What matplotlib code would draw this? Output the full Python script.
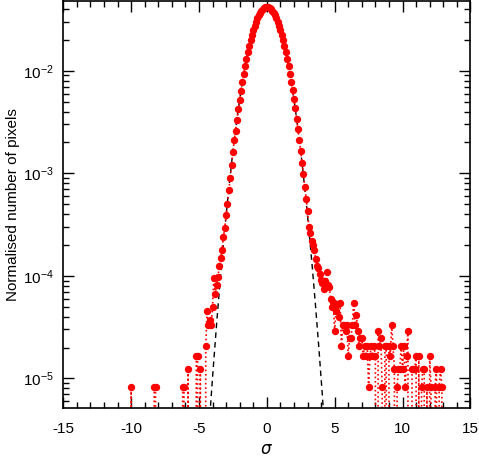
import numpy as np
import matplotlib
matplotlib.use("Agg")
import matplotlib.pyplot as plt
from matplotlib.ticker import MultipleLocator, LogLocator, NullFormatter

plt.rcParams['font.family'] = ['Liberation Sans', 'DejaVu Sans']
plt.rcParams['axes.unicode_minus'] = False

# one count level in the far tails (normalised)
unit = 4.15e-6

# left tail, sparse bins
left_x = [-10.0, -8.3, -8.2, -6.2, -6.1, -5.8, -5.2, -5.1, -4.9,
          -4.5, -4.4, -4.3, -4.2, -4.1, -4.0, -3.9, -3.8, -3.7, -3.6,
          -3.5, -3.4, -3.3, -3.2, -3.1, -3.0, -2.9, -2.8, -2.7]
left_y = [2*unit, 2*unit, 2*unit, 2*unit, 2*unit, 3*unit, 4*unit, 4*unit, 3*unit,
          5*unit, 4.5e-5, 3.3e-5, 3.7e-5, 3.3e-5, 5.0e-5, 9.5e-5, 6.7e-5, 8.2e-5, 9.8e-5,
          1.25e-4, 1.5e-4, 1.8e-4, 2.4e-4, 2.9e-4, 3.9e-4, 5.0e-4, 6.8e-4, 9.0e-4]

# core of the distribution
core_x = np.round(np.arange(-26, 31) / 10, 1)
core_y = [1.2e-3, 1.6e-3, 2.1e-3, 2.6e-3, 3.3e-3, 4.2e-3, 5.2e-3, 6.4e-3, 7.8e-3, 9.3e-3,
          1.11e-2, 1.30e-2, 1.51e-2, 1.74e-2, 1.98e-2, 2.24e-2, 2.50e-2, 2.75e-2, 3.01e-2, 3.25e-2,
          3.48e-2, 3.69e-2, 3.87e-2, 4.02e-2, 4.13e-2, 4.19e-2, 4.21e-2, 4.18e-2, 4.11e-2, 4.00e-2,
          3.86e-2, 3.68e-2, 3.47e-2, 3.24e-2, 3.00e-2, 2.74e-2, 2.49e-2, 2.23e-2, 1.98e-2, 1.74e-2,
          1.51e-2, 1.30e-2, 1.11e-2, 9.4e-3, 7.8e-3, 6.5e-3, 5.3e-3, 4.3e-3, 3.4e-3, 2.7e-3,
          2.1e-3, 1.65e-3, 1.27e-3, 9.8e-4, 7.4e-4, 5.6e-4, 4.3e-4]

# right tail (heavy wing)
right_x = np.round(np.arange(31, 75) / 10, 1)
right_y = [3.0e-4, 2.6e-4, 2.2e-4, 2.0e-4, 1.8e-4, 1.45e-4, 1.25e-4, 1.2e-4, 1.05e-4, 9.1e-5,
           8.5e-5, 7.5e-5, 9.0e-5, 1.08e-4, 8.2e-5, 7.8e-5, 6.0e-5, 5.0e-5, 5.5e-5, 2.9e-5,
           4.5e-5, 5.3e-5, 4.0e-5, 5.4e-5, 5*unit, 8*unit, 8*unit, 7*unit, 8*unit, 4*unit,
           6*unit, 6*unit, 8*unit, 13*unit, 8*unit, 10*unit, 7*unit, 5*unit, 6*unit, 6*unit,
           4*unit, 5*unit, 4*unit, 5*unit]

# far right tail, counts per bin from 7.5 to 13.1
far_x = np.round(np.arange(75, 132) / 10, 1)
far_counts = [2, 4, 5, 4, 5, 4, 0, 7, 5, 6,
              2, 0, 5, 5, 0, 5, 4, 8, 5, 3,
              0, 2, 3, 3, 5, 3, 5, 2, 4, 7,
              0, 0, 3, 3, 3, 4, 0, 4, 0, 2,
              3, 3, 0, 2, 0, 4, 2, 0, 0, 2,
              3, 0, 2, 3, 2, 0, 0]

# reference gaussian
gauss_peak = 0.042
gauss_sigma = 0.98

bins = np.round(np.arange(-105, 136) / 10, 1)
hist = np.zeros(len(bins))
lookup = {b: i for i, b in enumerate(bins)}
for xs, ys in [(left_x, left_y), (core_x, core_y), (right_x, right_y)]:
    for xv, yv in zip(xs, ys):
        hist[lookup[round(float(xv), 1)]] = yv
for xv, c in zip(far_x, far_counts):
    hist[lookup[round(float(xv), 1)]] = c * unit

gx = np.linspace(-6, 6, 600)
gy = gauss_peak * np.exp(-gx**2 / (2 * gauss_sigma**2))

fig = plt.figure(figsize=(4.79, 4.63), dpi=100)
ax = fig.add_axes([0.132, 0.118, 0.850, 0.880])

ax.plot(gx, gy, color='black', linestyle=(0, (4, 3)), linewidth=1.0)
ax.plot(bins, hist, color='red', linestyle=':', linewidth=1.2,
        marker='o', markersize=5.3, markeredgewidth=0)

ax.set_yscale('log')
ax.set_xlim(-15, 15)
ax.set_ylim(5.1e-6, 4.8e-2)

ax.xaxis.set_major_locator(MultipleLocator(5))
ax.xaxis.set_minor_locator(MultipleLocator(1))
ax.yaxis.set_minor_locator(LogLocator(base=10, subs=np.arange(2, 10)))
ax.yaxis.set_minor_formatter(NullFormatter())
ax.tick_params(which='both', direction='in', top=True, right=True, labelsize=11)
ax.tick_params(which='major', length=8, width=1)
ax.tick_params(which='minor', length=4, width=1)
ax.tick_params(axis='x', pad=10)
ax.tick_params(axis='y', pad=7)
for s in ax.spines.values():
    s.set_linewidth(1.2)

ax.set_xlabel(r'$\sigma$', fontsize=12)
ax.set_ylabel('Normalised number of pixels', fontsize=11, labelpad=2)

fig.savefig('out.png', dpi=100)
